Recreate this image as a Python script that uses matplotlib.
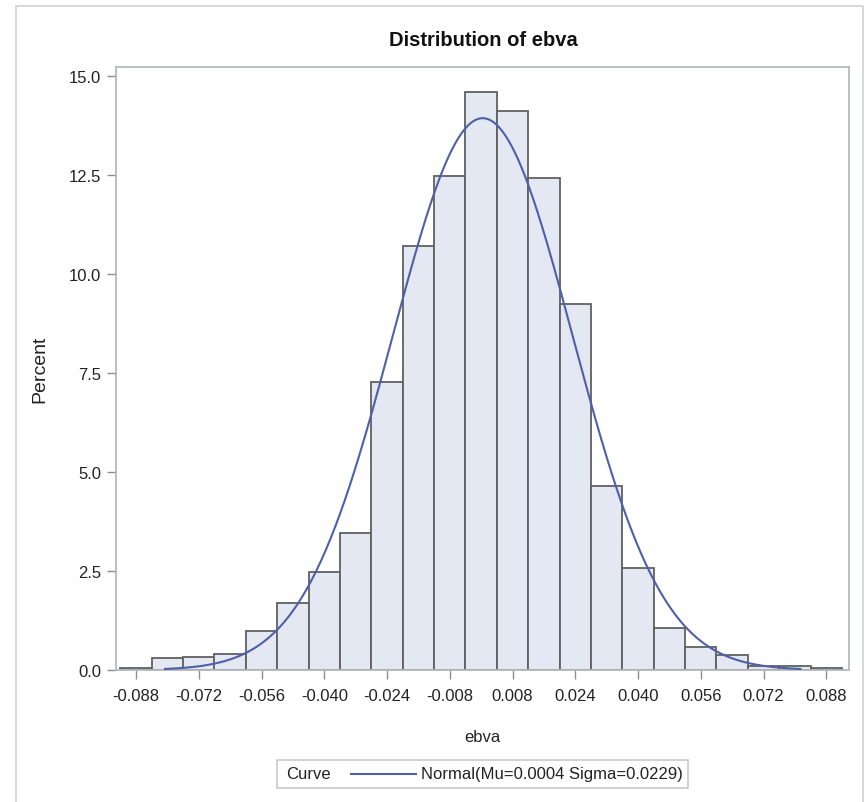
import numpy as np
import matplotlib
matplotlib.use("Agg")
import matplotlib.pyplot as plt
from matplotlib.patches import Rectangle
from matplotlib.lines import Line2D

# histogram of ebva (percent per bin, bin width 0.008)
bin_mid = [-0.088, -0.080, -0.072, -0.064, -0.056, -0.048, -0.040, -0.032,
           -0.024, -0.016, -0.008, 0.000, 0.008, 0.016, 0.024, 0.032,
           0.040, 0.048, 0.056, 0.064, 0.072, 0.080, 0.088]
percent = [0.05, 0.30, 0.34, 0.41, 0.98, 1.69, 2.48, 3.45,
           7.27, 10.72, 12.48, 14.60, 14.13, 12.43, 9.24, 4.64,
           2.57, 1.05, 0.59, 0.38, 0.09, 0.09, 0.04]
bin_width = 0.008

# fitted normal curve
mu, sigma = 0.0004, 0.0229
curve_lo, curve_hi = -0.0806, 0.0814

xticks = [-0.088, -0.072, -0.056, -0.040, -0.024, -0.008, 0.008, 0.024,
          0.040, 0.056, 0.072, 0.088]
yticks = [0.0, 2.5, 5.0, 7.5, 10.0, 12.5, 15.0]

plt.rcParams['font.family'] = ['Liberation Sans', 'DejaVu Sans']

W, H = 864, 803
fig = plt.figure(figsize=(W / 100, H / 100), dpi=100)
ax = fig.add_axes([116 / W, 1 - 671 / H, (849 - 116) / W, (671 - 68) / H])

ax.bar(bin_mid, percent, width=bin_width, color='#e3e8f2',
       edgecolor='#606060', linewidth=1.3, zorder=2)

xs = np.linspace(curve_lo, curve_hi, 400)
ys = 100 * bin_width * np.exp(-0.5 * ((xs - mu) / sigma) ** 2) / (sigma * np.sqrt(2 * np.pi))
ax.plot(xs, ys, color='#4f5fa8', linewidth=1.5, zorder=3)

ax.set_xlim(-0.0931, 0.0938)
ax.set_ylim(0, 15.23)
ax.set_xticks(xticks)
ax.set_xticklabels(['%.3f' % v for v in xticks])
ax.set_yticks(yticks)
ax.set_yticklabels(['%.1f' % v for v in yticks])
ax.tick_params(length=6.5, width=1, color='#8a8e92', labelsize=12,
               labelcolor='#222222', pad=4)
ax.tick_params(axis='x', pad=6.5)
for s in ax.spines.values():
    s.set_color('#b4b8bc')
    s.set_linewidth(1.3)

ax.set_xlabel('ebva', fontsize=12, color='#222222', va='center')
ax.xaxis.set_label_coords(0.5, (671 - 738) / 603)
ax.set_ylabel('Percent', fontsize=14, color='#222222', va='center')
ax.yaxis.set_label_coords((40 - 116) / 733, 0.5)

fig.text(483 / W, 1 - 40 / H, 'Distribution of ebva', ha='center', va='center',
         fontsize=14.5, fontweight='bold', color='#111111')

# outer frame of the graph
fig.patches.append(Rectangle((16 / W, -0.01), (863 - 16) / W, 1 - 7 / H + 0.01,
                             transform=fig.transFigure, fill=False,
                             edgecolor='#d4d6d8', linewidth=1.3))

# legend box
ly = 1 - 775 / H
fig.patches.append(Rectangle((277 / W, 1 - 789 / H), (688 - 277) / W, 28 / H,
                             transform=fig.transFigure, facecolor='white',
                             edgecolor='#c8cacc', linewidth=1.2))
fig.text(286 / W, ly, 'Curve', ha='left', va='center', fontsize=12, color='#222222')
fig.lines.append(Line2D([351 / W, 416 / W], [ly, ly], transform=fig.transFigure,
                        color='#4f5fa8', linewidth=1.5))
fig.text(421 / W, ly, 'Normal(Mu=0.0004 Sigma=0.0229)', ha='left', va='center',
         fontsize=12, color='#222222')

fig.savefig('out.png', dpi=100)
